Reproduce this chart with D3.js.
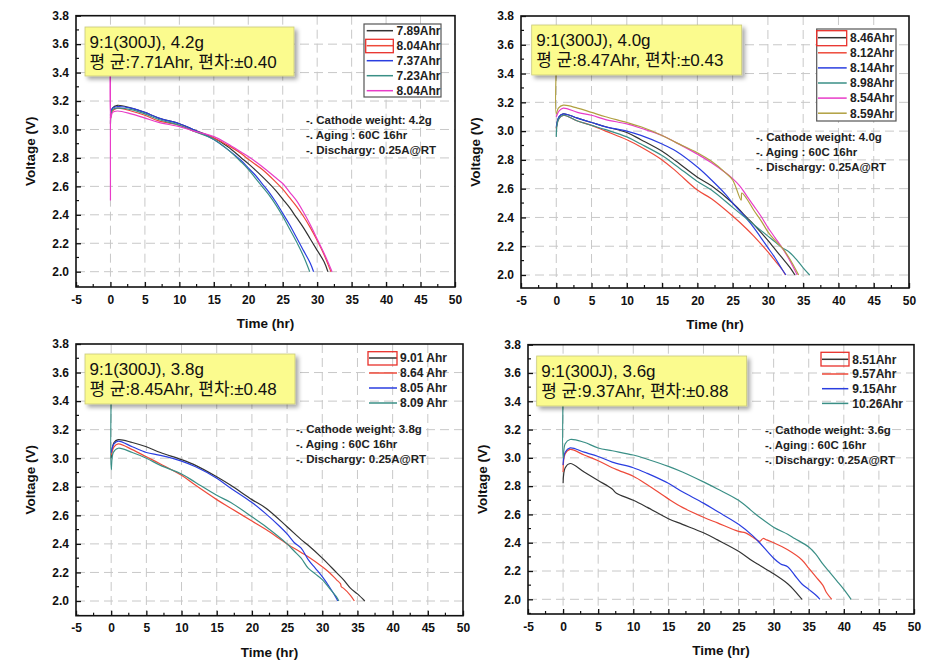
<!DOCTYPE html>
<html><head><meta charset="utf-8">
<script src="https://cdn.jsdelivr.net/npm/d3@7"></script>
<style>
body{margin:0;background:#fff}
svg{display:block}
text{font-family:"Liberation Sans",Arial,"Noto Sans CJK KR",sans-serif}
</style>
</head><body>
<svg id="c" width="941" height="671"></svg>
<script>
// ---------- tick labels ----------
const xTicks = [-5,0,5,10,15,20,25,30,35,40,45,50];
const yTicks = [2.0,2.2,2.4,2.6,2.8,3.0,3.2,3.4,3.6,3.8];
const xTitle = "Time (hr)";
const yTitle = "Voltage (V)";

// ---------- panel 1 : 4.2g ----------
const p1Title = ["9:1(300J), 4.2g", "평 균:7.71Ahr, 편차:±0.40"];
const p1Notes = ["-. Cathode weight: 4.2g", "-. Aging : 60C 16hr", "-. Dischargy: 0.25A@RT"];
const p1Labels = ["7.89Ahr","8.04Ahr","7.37Ahr","7.23Ahr","8.04Ahr"];
const p1Colors = ["#333333","#ee4a3a","#2a3ee0","#3a8f86","#e83cc8"];
const p1S1 = [[0,3.04],[0.3,3.15],[1,3.17],[3,3.15],[5,3.12],[7,3.08],[10,3.04],[12,3.00],[15,2.94],[17,2.88],[19,2.80],[20,2.76],[22,2.67],[24,2.57],[25,2.51],[26,2.45],[27,2.38],[28,2.31],[29,2.23],[30,2.15],[31,2.07],[31.56,2.0]];
const p1S2 = [[0,3.08],[0.3,3.13],[1,3.15],[3,3.13],[5,3.10],[7,3.06],[10,3.03],[12,2.99],[15,2.94],[17,2.89],[19,2.83],[20,2.79],[22,2.72],[24,2.63],[25,2.58],[26,2.52],[27,2.46],[28,2.39],[29,2.31],[30,2.22],[31,2.12],[32.0,2.0]];
const p1S3 = [[0,3.10],[0.3,3.15],[1,3.16],[3,3.15],[5,3.12],[7,3.08],[10,3.04],[12,3.00],[15,2.93],[17,2.86],[19,2.78],[20,2.73],[21,2.68],[22,2.62],[23,2.56],[24,2.49],[25,2.41],[26,2.33],[27,2.24],[28,2.15],[29,2.06],[29.48,2.0]];
const p1S4 = [[0,3.10],[0.3,3.14],[1,3.15],[3,3.14],[5,3.11],[7,3.07],[10,3.03],[12,2.99],[15,2.93],[17,2.86],[19,2.77],[20,2.72],[21,2.66],[22,2.60],[23,2.54],[24,2.47],[25,2.39],[26,2.30],[27,2.21],[28,2.11],[28.92,2.0]];
const p1S5 = [[0,2.5],[0,3.6],[0.05,3.08],[0.3,3.12],[1,3.13],[3,3.11],[5,3.08],[7,3.05],[10,3.02],[12,2.99],[15,2.95],[17,2.90],[19,2.84],[20,2.81],[22,2.74],[24,2.66],[25,2.62],[26,2.56],[27,2.50],[28,2.42],[29,2.33],[30,2.23],[31,2.13],[32.16,2.0]];

// ---------- panel 2 : 4.0g ----------
const p2Title = ["9:1(300J), 4.0g", "평 균:8.47Ahr, 편차:±0.43"];
const p2Notes = ["-. Cathode weight: 4.0g", "-. Aging : 60C 16hr", "-. Dischargy: 0.25A@RT"];
const p2Labels = ["8.46Ahr","8.12Ahr","8.14Ahr","8.98Ahr","8.54Ahr","8.59Ahr"];
const p2Colors = ["#333333","#ee4a3a","#2a3ee0","#3a8f86","#e83cc8","#b0a040"];
const p2S1 = [[0,3.02],[0.4,3.10],[1,3.12],[3,3.09],[5,3.06],[7,3.03],[10,2.99],[12,2.94],[15,2.86],[17,2.79],[20,2.68],[22,2.62],[25,2.50],[27,2.40],[28,2.35],[30,2.24],[31,2.18],[32,2.12],[33,2.06],[33.84,2.0]];
const p2S2 = [[0,3.02],[0.4,3.09],[1,3.11],[3,3.07],[5,3.04],[7,3.00],[10,2.94],[12,2.89],[15,2.80],[17,2.72],[20,2.59],[22,2.53],[25,2.41],[27,2.32],[28,2.27],[30,2.16],[31,2.10],[32,2.04],[32.48,2.0]];
const p2S3 = [[0,3.03],[0.4,3.10],[1,3.12],[3,3.09],[5,3.06],[7,3.03],[10,3.00],[12,2.97],[15,2.91],[17,2.86],[20,2.75],[22,2.66],[24,2.56],[25,2.50],[27,2.39],[28,2.33],[29,2.26],[30,2.19],[31,2.12],[32,2.04],[32.56,2.0]];
const p2S4 = [[0,2.96],[0.3,3.08],[1,3.11],[3,3.07],[5,3.04],[7,3.01],[10,2.96],[12,2.91],[15,2.83],[17,2.76],[20,2.65],[22,2.59],[25,2.47],[27,2.39],[28,2.35],[30,2.27],[31,2.23],[32,2.19],[33,2.16],[34,2.11],[35,2.05],[35.92,2.0]];
const p2S5 = [[0,3.10],[0.4,3.14],[1,3.16],[3,3.13],[5,3.11],[7,3.08],[10,3.05],[12,3.02],[15,2.97],[17,2.92],[20,2.84],[22,2.78],[24,2.71],[25,2.67],[26,2.62],[27,2.55],[28,2.48],[29,2.41],[30,2.33],[31,2.26],[32,2.19],[33,2.11],[34.16,2.0]];
const p2S6 = [[0,3.45],[0,3.12],[0.3,3.16],[1,3.18],[3,3.16],[5,3.13],[7,3.10],[10,3.06],[12,3.03],[15,2.97],[17,2.92],[20,2.85],[22,2.79],[24,2.71],[25,2.66],[26.2,2.52],[26.3,2.57],[27,2.53],[28,2.45],[29,2.38],[30,2.30],[31,2.24],[32,2.19],[33,2.12],[34.36,2.0]];

// ---------- panel 3 : 3.8g ----------
const p3Title = ["9:1(300J), 3.8g", "평 균:8.45Ahr, 편차:±0.48"];
const p3Notes = ["-. Cathode weight: 3.8g", "-. Aging : 60C 16hr", "-. Dischargy: 0.25A@RT"];
const p3Labels = ["9.01 Ahr","8.64 Ahr","8.05 Ahr","8.09 Ahr"];
const p3Colors = ["#333333","#ee4a3a","#2a3ee0","#3a8f86"];
const p3S1 = [[0,3.0],[0.4,3.11],[1,3.13],[3,3.11],[5,3.08],[7,3.04],[10,2.99],[12,2.95],[15,2.87],[17,2.81],[20,2.71],[22,2.65],[25,2.52],[27,2.43],[28,2.39],[30,2.30],[32,2.20],[33,2.15],[34,2.09],[35,2.05],[36.04,2.0]];
const p3S2 = [[0,3.02],[0.4,3.08],[1,3.10],[3,3.06],[5,3.01],[7,2.96],[10,2.88],[12,2.81],[15,2.71],[17,2.65],[20,2.56],[22,2.50],[25,2.40],[27,2.34],[28,2.31],[30,2.24],[31,2.20],[32,2.15],[32.6,2.12],[32.7,2.10],[33,2.09],[34,2.04],[34.56,2.0]];
const p3S3 = [[0,3.04],[0.4,3.10],[1,3.12],[3,3.08],[5,3.04],[7,3.02],[10,2.98],[12,2.94],[15,2.86],[17,2.79],[20,2.69],[22,2.61],[24,2.52],[25,2.47],[26,2.41],[27,2.37],[28,2.29],[29,2.23],[30,2.17],[31,2.10],[32,2.02],[32.2,2.0]];
const p3S4 = [[0,3.45],[0,2.92],[0.3,3.04],[1,3.07],[3,3.04],[5,3.0],[7,2.95],[10,2.89],[12,2.83],[15,2.74],[17,2.69],[20,2.59],[22,2.52],[25,2.40],[26,2.35],[27,2.30],[28,2.23],[29,2.19],[30,2.15],[31,2.09],[32,2.03],[32.36,2.0]];

// ---------- panel 4 : 3.6g ----------
const p4Title = ["9:1(300J), 3.6g", "평 균:9.37Ahr, 편차:±0.88"];
const p4Notes = ["-. Cathode weight: 3.6g", "-. Aging : 60C 16hr", "-. Dischargy: 0.25A@RT"];
const p4Labels = ["8.51Ahr","9.57Ahr","9.15Ahr","10.26Ahr"];
const p4Colors = ["#333333","#ee4a3a","#2a3ee0","#3a8f86"];
const p4S1 = [[0,2.82],[0.3,2.93],[1,2.96],[3,2.90],[5,2.84],[7,2.78],[7.6,2.75],[10,2.70],[12,2.65],[15,2.57],[17,2.53],[20,2.47],[22,2.42],[25,2.34],[27,2.27],[28,2.24],[30,2.18],[32,2.11],[33,2.06],[34.04,2.0]];
const p4S2 = [[0,2.9],[0.3,3.03],[1,3.06],[3,3.02],[5,2.98],[7,2.93],[8,2.91],[10,2.87],[12,2.81],[15,2.71],[17,2.65],[20,2.58],[22,2.54],[25,2.48],[26,2.47],[27,2.44],[28,2.41],[28.5,2.43],[29,2.42],[30,2.40],[32,2.35],[34,2.28],[35,2.22],[36,2.16],[37,2.10],[37.5,2.05],[38.28,2.0]];
const p4S3 = [[0,2.95],[0.3,3.04],[1,3.07],[3,3.04],[5,3.01],[7,2.97],[10,2.93],[12,2.89],[15,2.82],[17,2.76],[20,2.68],[22,2.62],[25,2.53],[27,2.45],[28,2.40],[30,2.29],[31,2.25],[32,2.23],[33,2.17],[34,2.11],[35,2.07],[36,2.03],[36.6,2.0]];
const p4S4 = [[0,3.45],[0,3.0],[0.3,3.10],[1,3.13],[3,3.11],[5,3.07],[7,3.05],[10,3.02],[12,2.99],[15,2.94],[17,2.90],[20,2.83],[22,2.78],[25,2.70],[27,2.62],[28,2.58],[30,2.51],[32,2.46],[33,2.43],[35,2.37],[36,2.32],[37,2.25],[38,2.19],[39,2.13],[40,2.07],[41.04,2.0]];

// ---------- layout (positions only) ----------
const layouts = [
  {x0:76, x1:455, y38:15.7, y20:271.7, yb:287,
   box:{x:85,y:27,w:209,h:49}, notes:{x:306,y:120},
   leg:{l1:366.7,l2:393,tx:396.5,y0:30.7,dy:15,border:{x:364,y:24,w:77,h:73},sel:{row:1,x:365.7,y:39.3,w:27.6,h:13.4}}},
  {x0:521, x1:909, y38:16, y20:275, yb:288,
   box:{x:531.7,y:25,w:210,h:50}, notes:{x:756,y:137.3},
   leg:{l1:818,l2:846.7,tx:850,y0:37.7,dy:15.1,border:{x:816.7,y:29,w:79.3,h:92},sel:{row:0,x:816.7,y:30.7,w:30,h:15}}},
  {x0:76, x1:463, y38:344, y20:601, yb:615.7,
   box:{x:85,y:354,w:210,h:50}, notes:{x:296,y:429.3},
   leg:{l1:369,l2:397,tx:400,y0:358,dy:15,border:null,sel:{row:0,x:368,y:351.7,w:29,h:13.3}}},
  {x0:528, x1:914, y38:344.7, y20:599.3, yb:614,
   box:{x:536.7,y:356,w:210,h:50}, notes:{x:765,y:430},
   leg:{l1:822,l2:848.3,tx:852.3,y0:359.3,dy:14.7,border:null,sel:{row:0,x:821,y:352.3,w:28,h:13.7}}}
];

const panelData = [
  {title:p1Title, notes:p1Notes, labels:p1Labels, colors:p1Colors, series:[p1S1,p1S2,p1S3,p1S4,p1S5]},
  {title:p2Title, notes:p2Notes, labels:p2Labels, colors:p2Colors, series:[p2S1,p2S2,p2S3,p2S4,p2S5,p2S6]},
  {title:p3Title, notes:p3Notes, labels:p3Labels, colors:p3Colors, series:[p3S1,p3S2,p3S3,p3S4]},
  {title:p4Title, notes:p4Notes, labels:p4Labels, colors:p4Colors, series:[p4S1,p4S2,p4S3,p4S4]}
];

const svg = d3.select("#c");
const defs = svg.append("defs");
const f = defs.append("filter").attr("id","shadow").attr("x","-10%").attr("y","-20%").attr("width","130%").attr("height","160%");
f.append("feDropShadow").attr("dx",3).attr("dy",3).attr("stdDeviation",2).attr("flood-color","#000").attr("flood-opacity",0.35);

panelData.forEach((pd, i) => {
  const L = layouts[i];
  const x = d3.scaleLinear().domain([-5,50]).range([L.x0, L.x1]);
  const y = d3.scaleLinear().domain([2.0,3.8]).range([L.y20, L.y38]);
  const g = svg.append("g");

  defs.append("clipPath").attr("id","clip"+i).append("rect")
    .attr("x",L.x0).attr("y",L.y38).attr("width",L.x1-L.x0).attr("height",L.yb-L.y38);

  // grid
  const grid = g.append("g").attr("stroke","#c8c8c8").attr("stroke-width",1).attr("stroke-dasharray","9,5");
  xTicks.filter(t => t > -5 && t < 50).forEach(t => {
    grid.append("line").attr("x1",x(t)).attr("x2",x(t)).attr("y1",L.y38).attr("y2",L.yb);
  });
  yTicks.filter(t => t < 3.79).forEach(t => {
    grid.append("line").attr("x1",L.x0).attr("x2",L.x1).attr("y1",y(t)).attr("y2",y(t));
  });

  // lines
  const line = d3.line().x(d => x(d[0])).y(d => y(d[1])).curve(d3.curveCatmullRom.alpha(0.5));
  const lg = g.append("g").attr("clip-path","url(#clip"+i+")");
  pd.series.forEach((s, k) => {
    lg.append("path").datum(s).attr("d", line).attr("fill","none")
      .attr("stroke", pd.colors[k]).attr("stroke-width",1.2).attr("stroke-linejoin","round");
  });

  // frame
  g.append("rect").attr("x",L.x0).attr("y",L.y38).attr("width",L.x1-L.x0).attr("height",L.yb-L.y38)
    .attr("fill","none").attr("stroke","#111").attr("stroke-width",1.6);

  // axes
  const xa = d3.axisBottom(x).tickValues(xTicks).tickSizeInner(-5).tickSizeOuter(0).tickPadding(8).tickFormat(d => String(d));
  const gx = g.append("g").attr("transform",`translate(0,${L.yb})`).call(xa);
  const ya = d3.axisLeft(y).tickValues(yTicks).tickSizeInner(-5).tickSizeOuter(0).tickPadding(7).tickFormat(d3.format(".1f"));
  const gy = g.append("g").attr("transform",`translate(${L.x0},0)`).call(ya);
  [gx, gy].forEach(a => {
    a.select(".domain").remove();
    a.selectAll(".tick line").attr("stroke","#111").attr("stroke-width",1.3);
    a.selectAll("text").attr("font-size",12).attr("font-weight","bold").attr("fill","#111");
  });
  // minor ticks
  const mx = d3.range(-2.5, 50, 5);
  g.append("g").selectAll("line").data(mx).join("line")
    .attr("x1",d=>x(d)).attr("x2",d=>x(d)).attr("y1",L.yb).attr("y2",L.yb-3)
    .attr("stroke","#111").attr("stroke-width",1.2);
  const my = d3.range(2.1, 3.8, 0.2).concat([1.9]).filter(v => y(v) <= L.yb);
  g.append("g").selectAll("line").data(my).join("line")
    .attr("x1",L.x0).attr("x2",L.x0+3).attr("y1",d=>y(d)).attr("y2",d=>y(d))
    .attr("stroke","#111").attr("stroke-width",1.2);

  // axis titles
  g.append("text").attr("x",(L.x0+L.x1)/2).attr("y",L.yb+41).attr("text-anchor","middle")
    .attr("font-size",13.5).attr("font-weight","bold").attr("fill","#111").text(xTitle);
  g.append("text").attr("transform",`translate(${L.x0-41},${(L.y38+L.yb)/2}) rotate(-90)`)
    .attr("text-anchor","middle").attr("font-size",13.5).attr("font-weight","bold").attr("fill","#111").text(yTitle);

  // yellow title box
  const B = L.box;
  g.append("rect").attr("x",B.x).attr("y",B.y).attr("width",B.w).attr("height",B.h)
    .attr("fill","#fbfb8e").attr("stroke","#c9c97a").attr("stroke-width",0.8).attr("filter","url(#shadow)");
  pd.title.forEach((t, k) => {
    g.append("text").attr("x",B.x+4.5).attr("y",B.y+21+k*20).attr("font-size",17).attr("fill","#111").text(t);
  });

  // notes
  pd.notes.forEach((t, k) => {
    g.append("text").attr("x",L.notes.x).attr("y",L.notes.y+4+k*15).attr("font-size",11.5)
      .attr("font-weight","bold").attr("fill","#222").text(t);
  });

  // legend
  const G = L.leg;
  if (G.border) {
    g.append("rect").attr("x",G.border.x).attr("y",G.border.y).attr("width",G.border.w).attr("height",G.border.h)
      .attr("fill","#fff").attr("stroke","#555").attr("stroke-width",1.2);
  }
  pd.labels.forEach((lab, k) => {
    const yy = G.y0 + k*G.dy;
    g.append("line").attr("x1",G.l1).attr("x2",G.l2).attr("y1",yy).attr("y2",yy)
      .attr("stroke",pd.colors[k]).attr("stroke-width",1.5);
    g.append("text").attr("x",G.tx).attr("y",yy+4.3).attr("font-size",12).attr("font-weight","bold")
      .attr("fill","#222").text(lab);
  });
  g.append("rect").attr("x",G.sel.x).attr("y",G.sel.y).attr("width",G.sel.w).attr("height",G.sel.h)
    .attr("fill","none").attr("stroke","#e8302a").attr("stroke-width",1.3);
});
</script>
</body></html>
